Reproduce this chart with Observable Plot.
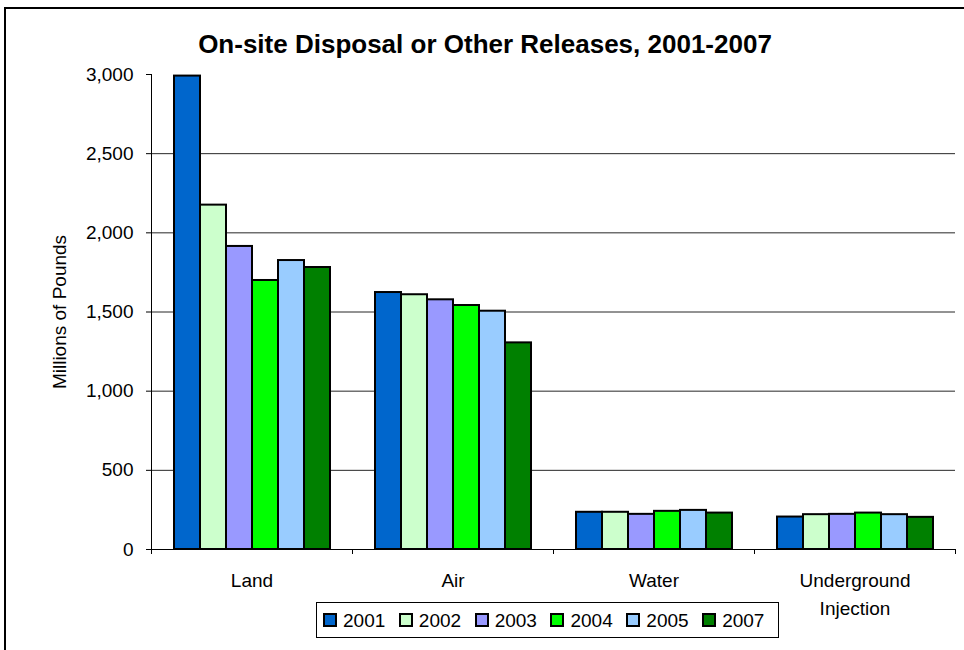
<!DOCTYPE html>
<html>
<head>
<meta charset="utf-8">
<script src="https://cdn.jsdelivr.net/npm/d3@7"></script>
<script src="https://cdn.jsdelivr.net/npm/@observablehq/plot@0.6"></script>
<style>
  html, body { margin: 0; padding: 0; background: #fff; }
  #chart { position: relative; width: 964px; height: 650px; overflow: hidden;
           font-family: "Liberation Sans", Arial, sans-serif; color: #000; }
  #border { position: absolute; left: 4px; top: 7px; width: 2000px; height: 2000px;
            border-left: 2px solid #000; border-top: 2px solid #000; }
  #plot { position: absolute; left: 0; top: 0; }
  #title { position: absolute; left: 0; top: 31px; width: 970px; text-align: center;
           font-weight: bold; font-size: 26px; line-height: 26px; white-space: nowrap; }
  #legend { position: absolute; left: 316px; top: 602px; width: 463px; height: 36px;
            box-sizing: border-box; border: 1px solid #000; background: #fff;
            display: flex; align-items: center; padding-left: 6px; }
  .item { display: flex; align-items: center; width: 76px; font-size: 19px; line-height: 19px; }
  .swatch { width: 14px; height: 14px; box-sizing: border-box; border: 2px solid #000; margin-right: 6px; }
</style>
</head>
<body>
<div id="chart">
  <div id="border"></div>
  <div id="plot"></div>
  <div id="title">On-site Disposal or Other Releases, 2001-2007</div>
  <div id="legend"></div>
</div>
<script>
// Release categories, reporting years and bar colours
const categories = ["Land", "Air", "Water", "Underground Injection"];
const years = ["2001", "2002", "2003", "2004", "2005", "2007"];
const colors = ["#0066cc", "#ccffcc", "#9999ff", "#00ff00", "#99ccff", "#008000"];

// Millions of pounds released, one value per year
const land = [2990, 2175, 1914, 1699, 1825, 1781];
const air = [1623, 1609, 1577, 1541, 1505, 1305];
const water = [235, 235, 222, 241, 247, 230];
const underground = [205, 220, 222, 230, 220, 203];

const yTicks = [0, 500, 1000, 1500, 2000, 2500, 3000];

const series = [land, air, water, underground];
const rows = categories.flatMap((category, i) =>
  years.map((year, j) => ({category, year, value: series[i][j]}))
);

// Small tick marks at the edges of each category group, below the baseline
function categoryTicks(index, {x, y}) {
  const [x0, x1] = x.range();
  const y0 = y(0);
  const g = d3.create("svg:g").attr("stroke", "#000").attr("transform", "translate(0.5,0)");
  for (const px of [x0, x1]) {
    g.append("line").attr("x1", px).attr("x2", px).attr("y1", y0).attr("y2", y0 + 5);
  }
  return g.node();
}

const chart = Plot.plot({
  width: 964,
  height: 640,
  marginTop: 74,
  marginBottom: 91,
  marginLeft: 151,
  marginRight: 9,
  style: {fontFamily: "'Liberation Sans', Arial, sans-serif", fontSize: "19px", color: "#000", background: "transparent"},
  fx: {domain: categories, padding: 0},
  x: {domain: years, paddingInner: 0, paddingOuter: 0.76, axis: null},
  y: {domain: [0, 3000]},
  color: {domain: years, range: colors},
  marks: [
    Plot.gridY(yTicks.filter((v) => v > 0 && v < 3000), {stroke: "#000", strokeOpacity: 0.85}),
    Plot.barY(rows, {fx: "category", x: "year", y: "value", fill: "year", stroke: "#000", strokeWidth: 2}),
    Plot.ruleY([0], {stroke: "#000"}),
    Plot.frame({anchor: "left", facetAnchor: "left", stroke: "#000"}),
    categoryTicks,
    Plot.axisY({
      ticks: yTicks,
      tickSize: 5,
      tickPadding: 13,
      tickFormat: d3.format(","),
      label: "Millions of Pounds",
      labelAnchor: "center",
      labelOffset: 99,
      labelArrow: false
    }),
    Plot.axisFx({
      anchor: "bottom",
      tickSize: 0,
      tickPadding: 17,
      label: null,
      lineHeight: 1.5,
      tickFormat: (d) => d.split(" ").join("\n")
    })
  ]
});
document.getElementById("plot").append(chart);

// Legend row: one swatch per year
const legend = d3.select("#legend");
years.forEach((year, i) => {
  const item = legend.append("div").attr("class", "item");
  item.append("div").attr("class", "swatch").style("background", colors[i]);
  item.append("span").text(year);
});
</script>
</body>
</html>
